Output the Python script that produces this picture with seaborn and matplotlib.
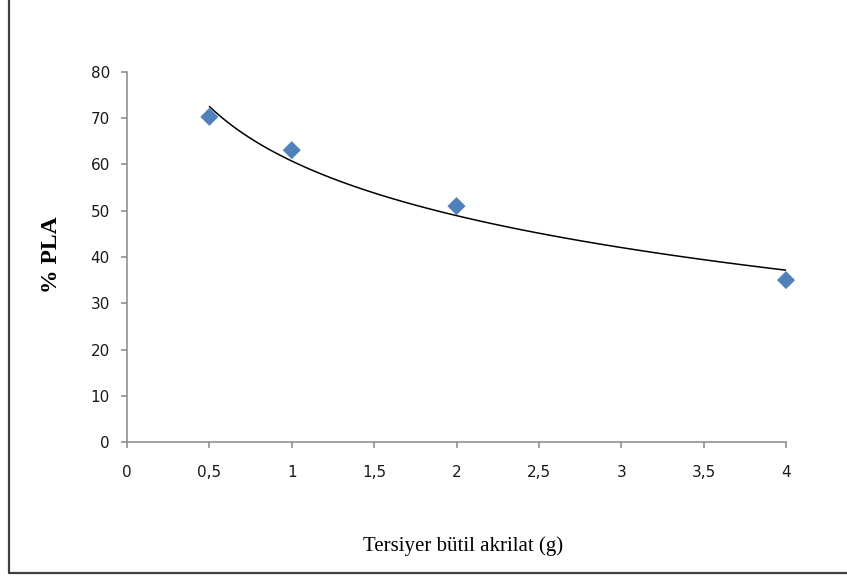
import numpy as np
import pandas as pd
import seaborn as sns
import matplotlib.pyplot as plt
from matplotlib.lines import Line2D

# data
tba_g = [0.5, 1, 2, 4]
pla_pct = [70.3, 63.1, 51.0, 35.0]
x_ticks = [0, 0.5, 1, 1.5, 2, 2.5, 3, 3.5, 4]
x_ticklabels = ["0", "0,5", "1", "1,5", "2", "2,5", "3", "3,5", "4"]
y_ticks = [0, 10, 20, 30, 40, 50, 60, 70, 80]

df = pd.DataFrame({"x": tba_g, "y": pla_pct})

sns.set_style("white")
plt.rcParams["font.family"] = ["DejaVu Sans"]

fig = plt.figure(figsize=(8.47, 5.77), dpi=100)
ax = fig.add_axes([127 / 847, 1 - 442 / 577, 659 / 847, 370 / 577])

# logarithmic trendline, as in the original spreadsheet chart
sns.regplot(data=df, x="x", y="y", logx=True, ci=None, scatter=False,
            truncate=True, ax=ax, line_kws={"color": "black", "lw": 1.1})
sns.scatterplot(data=df, x="x", y="y", marker="D", s=85, color="#4F81BD",
                edgecolor="none", ax=ax, zorder=3, clip_on=False)

ax.set_xlim(0, 4)
ax.set_ylim(0, 80)
ax.set_xticks(x_ticks)
ax.set_xticklabels(x_ticklabels)
ax.set_yticks(y_ticks)

for side in ["top", "right"]:
    ax.spines[side].set_visible(False)
for side in ["left", "bottom"]:
    ax.spines[side].set_color("#878787")
    ax.spines[side].set_linewidth(1.1)

ax.tick_params(axis="both", bottom=True, left=True, direction="out",
               length=4.3, width=1.1, color="#878787", labelsize=11,
               labelcolor="#1a1a1a")
ax.tick_params(axis="x", pad=12)
ax.tick_params(axis="y", pad=8)

ax.set_xlabel("Tersiyer bütil akrilat (g)", family="Liberation Serif",
              fontsize=15, color="black")
ax.set_ylabel("% PLA", family="Liberation Serif", fontweight="bold",
              fontsize=17, color="black")
ax.xaxis.set_label_coords(0.51, -0.255)
ax.yaxis.set_label_coords(-0.099, 0.505)

# outer frame (left and bottom edges visible in the original)
fig.add_artist(Line2D([8.5 / 847, 8.5 / 847], [1, 1 - 573 / 577],
                      transform=fig.transFigure, color="#404040", lw=1.6))
fig.add_artist(Line2D([8.5 / 847, 1], [1 - 573 / 577, 1 - 573 / 577],
                      transform=fig.transFigure, color="#404040", lw=1.6))

fig.savefig("out.png", dpi=100)
